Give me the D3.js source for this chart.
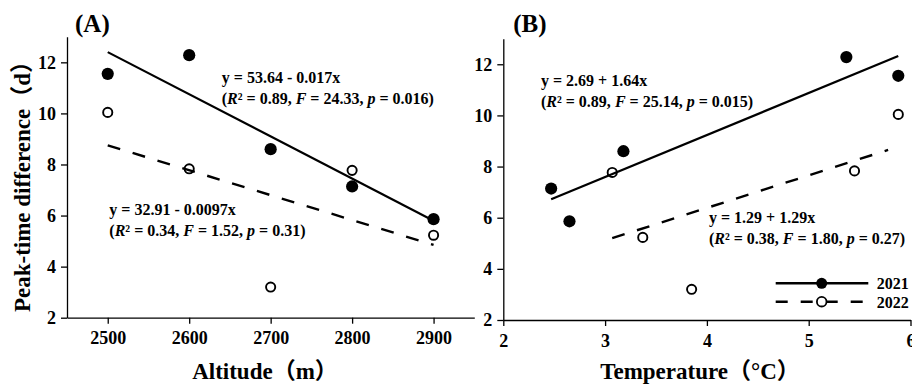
<!DOCTYPE html>
<html>
<head>
<meta charset="utf-8">
<script src="https://cdn.jsdelivr.net/npm/d3@7"></script>
<style>
  body { margin: 0; background: #fff; }
  svg { display: block; }
  text { font-family: "Liberation Serif", "Times New Roman", "Noto Sans CJK SC", serif; font-weight: bold; fill: #000; }
</style>
</head>
<body>
<div id="chart"></div>
<script>
// data
const altitude = [2500, 2600, 2700, 2800, 2900];
const peak2021 = [11.55, 12.28, 8.6, 7.14, 5.86];
const peak2022 = [10.04, 7.83, 3.2, 7.77, 5.23];
const temp2021 = [5.88, 5.37, 3.18, 2.47, 2.65];
const temp2022 = [5.88, 5.45, 3.85, 3.07, 3.37];

// fitted line end points [x, y]
const fitAlt2021 = [[2500, 12.4], [2900, 5.8]];
const fitAlt2022 = [[2500, 8.75], [2900, 4.85]];
const fitTemp2021 = [[2.47, 6.72], [5.88, 12.32]];
const fitTemp2022 = [[3.07, 5.2], [5.78, 8.65]];

const altTicks = [2500, 2600, 2700, 2800, 2900];
const tempTicks = [2, 3, 4, 5, 6];
const yTicks = [2, 4, 6, 8, 10, 12];
const years = ["2021", "2022"];

const width = 912, height = 385;

const svg = d3.select('#chart').append('svg')
    .attr('width', width)
    .attr('height', height);

function panel(opts) {
    const x = d3.scaleLinear().domain(opts.xDomain).range(opts.xRange);
    const y = d3.scaleLinear().domain([2, 13]).range(opts.yRange);
    const g = svg.append('g');

    // axes
    const xAxis = g.append('g')
        .attr('transform', `translate(0,${opts.yRange[0]})`)
        .call(d3.axisBottom(x).tickValues(opts.xTicks).tickFormat(d3.format('d'))
            .tickSize(6).tickPadding(8).tickSizeOuter(0));
    const yAxis = g.append('g')
        .attr('transform', `translate(${opts.xRange[0]},0)`)
        .call(d3.axisLeft(y).tickValues(yTicks).tickFormat(d3.format('d'))
            .tickSize(6).tickPadding(5).tickSizeOuter(0));
    [xAxis, yAxis].forEach(a => {
        a.select('.domain').attr('stroke', '#000').attr('stroke-width', 1.3);
        a.selectAll('.tick line').attr('stroke', '#000').attr('stroke-width', 1.3);
        a.selectAll('.tick text').style('font-size', '18px').attr('fill', '#000');
    });

    // fit lines
    const line = d3.line().x(d => x(d[0])).y(d => y(d[1]));
    g.append('path').datum(opts.fit1)
        .attr('d', line).attr('fill', 'none')
        .attr('stroke', '#000').attr('stroke-width', 2.2);
    g.append('path').datum(opts.fit2)
        .attr('d', line).attr('fill', 'none')
        .attr('stroke', '#000').attr('stroke-width', 2.4)
        .attr('stroke-dasharray', '13,13');

    // points
    g.selectAll('.p2022').data(d3.zip(opts.xs2, peak2022)).enter()
        .append('circle')
            .attr('cx', d => x(d[0])).attr('cy', d => y(d[1]))
            .attr('r', 4.6).attr('fill', 'none')
            .attr('stroke', '#000').attr('stroke-width', 1.9);
    g.selectAll('.p2021').data(d3.zip(opts.xs1, peak2021)).enter()
        .append('circle')
            .attr('cx', d => x(d[0])).attr('cy', d => y(d[1]))
            .attr('r', 6.1).attr('fill', '#000');

    // equations
    opts.notes.forEach(n => {
        g.append('text')
            .attr('x', x(n.x)).attr('y', y(n.y))
            .style('font-size', '16px')
            .text(n.eq);
        const t2 = g.append('text')
            .attr('x', x(n.x)).attr('y', y(n.y) + 21)
            .style('font-size', '16px');
        t2.append('tspan').text('(');
        t2.append('tspan').attr('font-style', 'italic').text('R');
        t2.append('tspan').text('² = ' + n.r2 + ', ');
        t2.append('tspan').attr('font-style', 'italic').text('F');
        t2.append('tspan').text(' = ' + n.f + ', ');
        t2.append('tspan').attr('font-style', 'italic').text('p');
        t2.append('tspan').text(' = ' + n.p + ')');
    });

    // panel label
    g.append('text')
        .attr('x', opts.xRange[0] + opts.labelDx).attr('y', 32)
        .style('font-size', '25px')
        .text(opts.label);

    // axis title
    g.append('text')
        .attr('x', opts.titleX).attr('y', 379)
        .attr('text-anchor', 'middle')
        .style('font-size', '23px')
        .text(opts.title);

    return {x, y, g};
}

panel({
    xDomain: [2450, 2950], xRange: [67, 474.3], yRange: [317.7, 36.8],
    xTicks: altTicks, xs1: altitude, xs2: altitude,
    fit1: fitAlt2021, fit2: fitAlt2022,
    label: '(A)', labelDx: 8, title: 'Altitude（m）', titleX: 265,
    notes: [
        {x: 2640, y: 11.19, eq: 'y = 53.64 - 0.017x', r2: '0.89', f: '24.33', p: '0.016'},
        {x: 2502, y: 6.02, eq: 'y =  32.91 - 0.0097x', r2: '0.34', f: '1.52', p: '0.31'}
    ]
});

panel({
    xDomain: [2, 6], xRange: [503.3, 910.5], yRange: [320, 38.7],
    xTicks: tempTicks, xs1: temp2021, xs2: temp2022,
    fit1: fitTemp2021, fit2: fitTemp2022,
    label: '(B)', labelDx: 10, title: 'Temperature（°C）', titleX: 700,
    notes: [
        {x: 2.37, y: 11.15, eq: 'y = 2.69 + 1.64x', r2: '0.89', f: '25.14', p: '0.015'},
        {x: 4.02, y: 5.8, eq: 'y = 1.29 + 1.29x', r2: '0.38', f: '1.80', p: '0.27'}
    ]
});

// y axis title (shared)
svg.append('text')
    .attr('transform', 'translate(30,181) rotate(-90)')
    .attr('text-anchor', 'middle')
    .style('font-size', '23px')
    .text('Peak-time difference（d）');

// legend
const legend = svg.append('g');
years.forEach((yr, i) => {
    const ly = 283.3 + i * 18.4;
    legend.append('line')
        .attr('x1', 775.7).attr('x2', 868.3).attr('y1', ly).attr('y2', ly)
        .attr('stroke', '#000').attr('stroke-width', 2.4)
        .attr('stroke-dasharray', i === 0 ? null : '12,13');
    legend.append('circle')
        .attr('cx', 821.7).attr('cy', ly)
        .attr('r', i === 0 ? 5.5 : 4.8)
        .attr('fill', i === 0 ? '#000' : '#fff')
        .attr('stroke', '#000').attr('stroke-width', i === 0 ? 0 : 1.8);
    legend.append('text')
        .attr('x', 876.7).attr('y', ly + 6)
        .style('font-size', '16px')
        .text(yr);
});
</script>
</body>
</html>
